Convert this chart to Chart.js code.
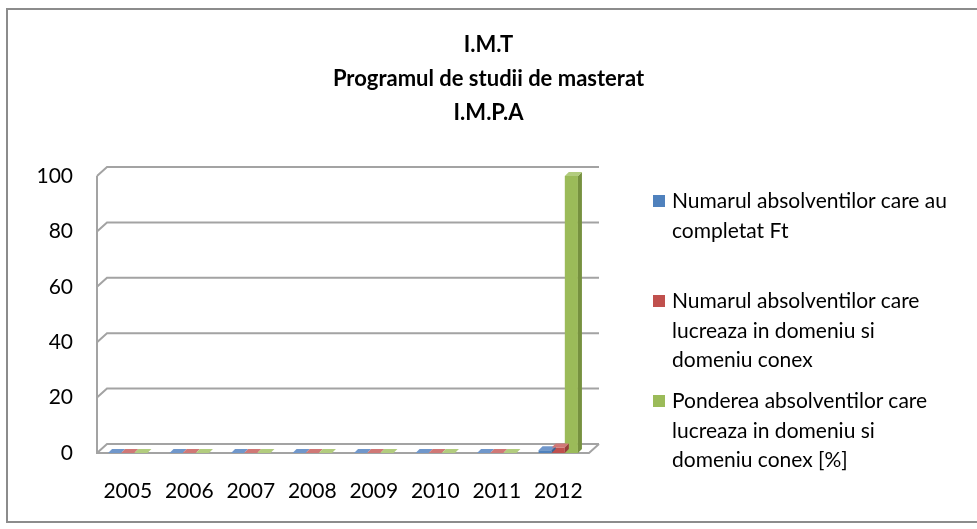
<!DOCTYPE html>
<html>
<head>
<meta charset="utf-8">
<script src="https://cdn.jsdelivr.net/npm/chart.js@4.4.1/dist/chart.umd.min.js"></script>
<style>
  html, body { margin: 0; padding: 0; background: #fff; }
  #wrap { position: relative; width: 977px; height: 529px; overflow: hidden; }
  #chart { position: absolute; left: 0; top: 0; }
  #frame { position: absolute; left: 6px; top: 8px; width: 990px; height: 511px; border: 2px solid #8c8c8c; pointer-events: none; }
  #legend { position: absolute; left: 0; top: 0; font-family: Lato, sans-serif; font-size: 21px; color: #000; }
  .item { position: absolute; left: 653px; }
  .box { position: absolute; left: 0; top: 10px; width: 12px; height: 12px; }
  .txt { position: absolute; left: 19px; top: 0; line-height: 29.5px; white-space: nowrap; }
</style>
</head>
<body>
<div id="wrap">
  <canvas id="chart" width="977" height="529"></canvas>
  <div id="legend"></div>
  <div id="frame"></div>
</div>
<script>
// data
const years = ['2005', '2006', '2007', '2008', '2009', '2010', '2011', '2012'];
const absolventiFt = [0, 0, 0, 0, 0, 0, 0, 1];
const absolventiDomeniu = [0, 0, 0, 0, 0, 0, 0, 2];
const pondere = [0, 0, 0, 0, 0, 0, 0, 100];
const yTicks = [0, 20, 40, 60, 80, 100];
const titleLines = ['I.M.T', 'Programul de studii de masterat', 'I.M.P.A'];
const seriesLabels = [
  ['Numarul absolventilor care au', 'completat Ft'],
  ['Numarul absolventilor care', 'lucreaza in domeniu si', 'domeniu conex'],
  ['Ponderea absolventilor care', 'lucreaza in domeniu si', 'domeniu conex [%]']
];

const frontColors = ['#4f81bd', '#c0504d', '#9bbb59'];
const topColors = ['#7097cb', '#d07876', '#b2cc7e'];
const sideColors = ['#3c6596', '#963d3a', '#76913f'];

// 3d wall + floor (back wall shifted up/right)
const WX = 10, WY = 9;
const frame3d = {
  id: 'frame3d',
  beforeDatasetsDraw(chart) {
    const { ctx, chartArea: a, scales: { y } } = chart;
    ctx.save();
    ctx.strokeStyle = '#a3a3a3';
    ctx.lineWidth = 2;
    ctx.beginPath();
    y.ticks.forEach(t => {
      const py = y.getPixelForValue(t.value);
      ctx.moveTo(a.left, py);
      ctx.lineTo(a.left + WX, py - WY);
      ctx.lineTo(a.right + WX, py - WY);
    });
    const y0 = y.getPixelForValue(0);
    ctx.moveTo(a.left, y.getPixelForValue(100));
    ctx.lineTo(a.left, y0);
    ctx.lineTo(a.right, y0);
    ctx.lineTo(a.right + WX, y0 - WY);
    ctx.stroke();
    ctx.restore();
  }
};

// side and top faces of the columns
const D = 4;
const bars3d = {
  id: 'bars3d',
  afterDatasetsDraw(chart) {
    const ctx = chart.ctx;
    const poly = pts => {
      ctx.beginPath();
      ctx.moveTo(pts[0][0], pts[0][1]);
      pts.slice(1).forEach(p => ctx.lineTo(p[0], p[1]));
      ctx.closePath();
      ctx.fill();
    };
    chart.data.datasets.forEach((ds, i) => {
      chart.getDatasetMeta(i).data.forEach(bar => {
        const { x, y, base, width } = bar.getProps(['x', 'y', 'base', 'width'], true);
        const l = x - width / 2, r = x + width / 2;
        ctx.fillStyle = sideColors[i];
        poly([[r, y], [r + D, y - D], [r + D, base - D], [r, base]]);
        ctx.fillStyle = topColors[i];
        poly([[l, y], [r, y], [r + D, y - D], [l + D, y - D]]);
      });
    });
  }
};

const series = [absolventiFt, absolventiDomeniu, pondere];

new Chart(document.getElementById('chart'), {
  type: 'bar',
  data: {
    labels: years,
    datasets: series.map((vals, i) => ({
      label: seriesLabels[i].join(' '),
      data: vals,
      backgroundColor: frontColors[i],
      borderWidth: 0,
      categoryPercentage: 0.64,
      barPercentage: 1
    }))
  },
  options: {
    responsive: false,
    animation: false,
    layout: { padding: 0 },
    plugins: {
      legend: { display: false },
      tooltip: { enabled: false },
      title: {
        display: true,
        text: titleLines,
        color: '#000',
        font: { family: 'Lato', size: 22, weight: 'bold', lineHeight: 34 / 22 },
        padding: { top: 28, bottom: 46 }
      }
    },
    scales: {
      x: {
        grid: { display: false, drawTicks: false },
        border: { display: false },
        ticks: { color: '#000', font: { family: 'Lato', size: 21 }, padding: 26 },
        afterFit: s => { s.height = 76; }
      },
      y: {
        min: 0,
        max: 100,
        afterBuildTicks: s => { s.ticks = yTicks.map(v => ({ value: v })); },
        grid: { display: false, drawTicks: false },
        border: { display: false },
        ticks: { color: '#000', font: { family: 'Lato', size: 21 }, padding: 24 },
        afterFit: s => { s.width = 97; }
      },
      spacer: {
        type: 'linear',
        position: 'right',
        grid: { display: false, drawTicks: false },
        border: { display: false },
        ticks: { display: false },
        afterFit: s => { s.width = 977 - 589; }
      }
    }
  },
  plugins: [frame3d, bars3d]
});

// legend with wrapped lines, as in the original
const legend = document.getElementById('legend');
seriesLabels.forEach((lines, i) => {
  const item = document.createElement('div');
  item.className = 'item';
  item.style.top = (185 + i * 100) + 'px';
  const box = document.createElement('div');
  box.className = 'box';
  box.style.background = frontColors[i];
  const txt = document.createElement('div');
  txt.className = 'txt';
  txt.innerHTML = lines.join('<br>');
  item.appendChild(box);
  item.appendChild(txt);
  legend.appendChild(item);
});
</script>
</body>
</html>
